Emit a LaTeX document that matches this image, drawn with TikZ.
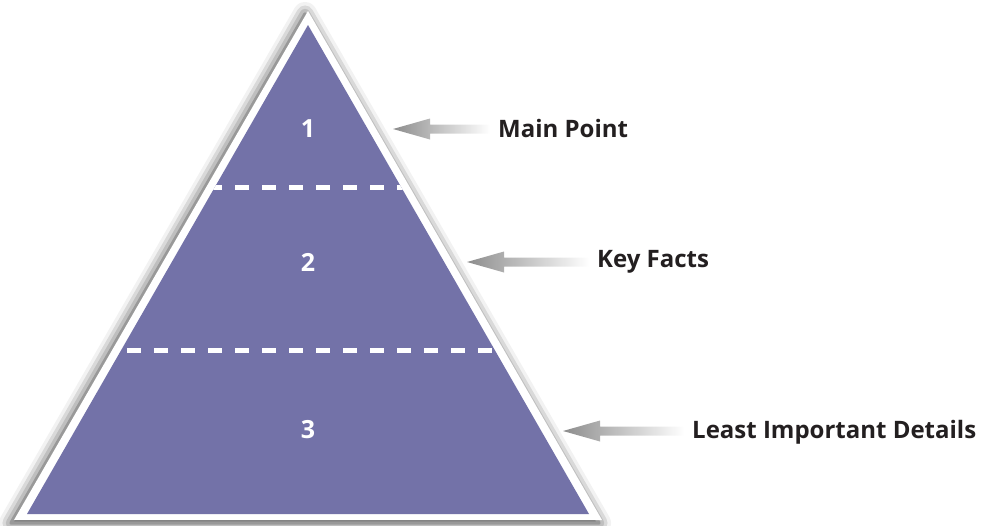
\documentclass[tikz,border=0pt]{standalone}
\usepackage{fontspec}
\setmainfont{Open Sans}
\usetikzlibrary{calc,shadows.blur}

\definecolor{pyrpurple}{RGB}{115,114,168}
\definecolor{labelink}{RGB}{35,31,32}

\tikzset{
  levelnum/.style={text=white, font=\bfseries\fontsize{25}{25}\selectfont, anchor=base},
  levellabel/.style={text=labelink, font=\bfseries\fontsize{24}{24}\selectfont, anchor=base west, inner sep=0pt},
  dashline/.style={white, line width=5pt, dash pattern=on 14pt off 13pt},
  arrowfade/.style={left color=black!45, right color=white, draw=none},
}

\newcommand{\fadearrow}[2]{%
  \shade[arrowfade] let \p1=(#1), \p2=(#2) in
    (\p1) -- (\x1+37pt,\y1+10.5pt) -- (\x1+37pt,\y1+4.5pt) -- (\x2,\y1+4.5pt)
    -- (\x2,\y1-4.5pt) -- (\x1+37pt,\y1-4.5pt) -- (\x1+37pt,\y1-10.5pt) -- cycle;}

\begin{document}
\begin{tikzpicture}[x=1pt, y=-1pt]

\useasboundingbox (0,0) rectangle (995,525);

% pyramid
\coordinate (apex) at (308,25);
\coordinate (bl) at (27,514);
\coordinate (br) at (589,514);

\fill[white, blur shadow={shadow blur radius=12pt, shadow xshift=-3pt, shadow yshift=-3pt, shadow opacity=80}]
    (308,11) -- (14,520) -- (602,520) -- cycle;
\fill[pyrpurple] (apex) -- (bl) -- (br) -- cycle;

% level borders
\begin{scope}
    \clip (apex) -- (bl) -- (br) -- cycle;
    \draw[dashline] (100,187) coordinate (cut1l) -- (520,187) coordinate (cut1r);
    \draw[dashline] (100,350) coordinate (cut2l) -- (520,350) coordinate (cut2r);
\end{scope}

% level numbers
\node[levelnum] (num1) at (308,137) {1};
\node[levelnum] (num2) at (308,271) {2};
\node[levelnum] (num3) at (308,438) {3};

% labels
\node[levellabel] (main) at (498,137) {Main Point};
\node[levellabel] (facts) at (597,267) {Key Facts};
\node[levellabel] (details) at (692,438) {Least Important Details};

\coordinate (tip1) at (393,129);
\coordinate (tip2) at (467,262);
\coordinate (tip3) at (563,431);

\coordinate (tail1) at ($(main.west)+(-8,0)$);
\coordinate (tail2) at ($(facts.west)+(-8,0)$);
\coordinate (tail3) at ($(details.west)+(-8,0)$);

\fadearrow{tip1}{tail1}
\fadearrow{tip2}{tail2}
\fadearrow{tip3}{tail3}

\end{tikzpicture}
\end{document}
